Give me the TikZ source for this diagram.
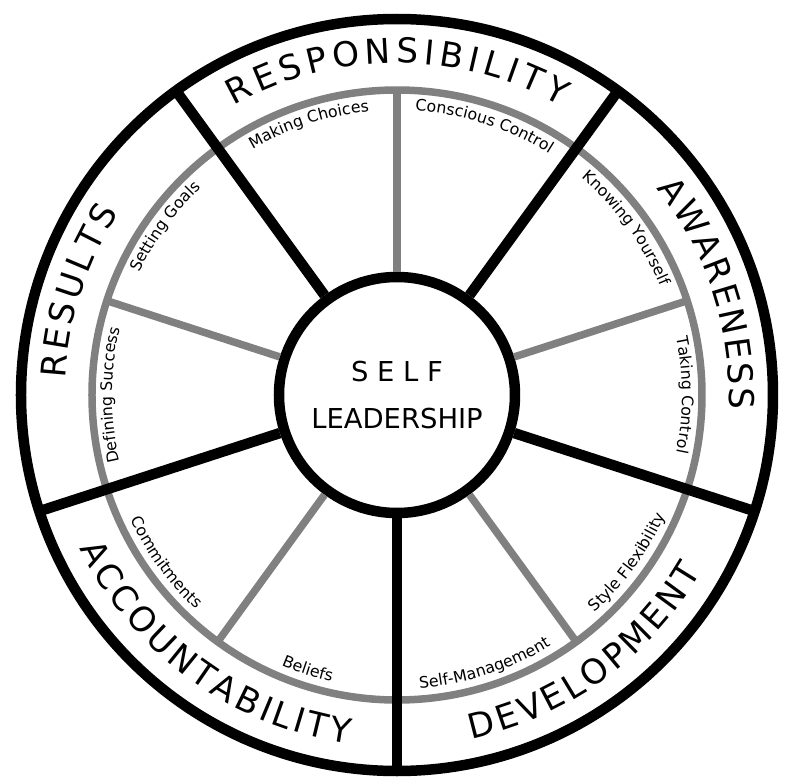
\documentclass[tikz,border=0pt]{standalone}
\usepackage{fontspec}
\setmainfont{DejaVu Sans}
\usetikzlibrary{decorations.text}
\tikzset{
    major/.style={draw=black, line width=0.21cm},
    minor/.style={draw=black!50, line width=0.15cm},
    hub/.style={
        circle,
        draw=black,
        line width=0.21cm,
        fill=white,
        minimum size=4.72cm,
        inner sep=0pt,
        align=center,
        font=\fontsize{15.6}{26.7}\selectfont
    }
}
\newcommand{\rimsize}{\fontsize{19.5}{23}\selectfont}
\newcommand{\spokesize}{\fontsize{9}{11}\selectfont}
% titolo sul bordo: raggio, angolo iniziale, angolo finale, testo
\newcommand{\rimlabel}[4]{%
    \path[decorate, decoration={text along path, text align=fit to path,
        text={|\rimsize|#4}}] (#2:#1) arc[start angle=#2, end angle=#3, radius=#1];}
% voce interna: raggio, angolo iniziale, angolo finale, testo
\newcommand{\spokelabel}[4]{%
    \path[decorate, decoration={text along path, text align=center,
        text={|\spokesize|#4}}] (#2:#1) arc[start angle=#2, end angle=#3, radius=#1];}

\begin{document}
\begin{tikzpicture}
    \useasboundingbox (-7.94,-7.68) rectangle (7.78,7.90);

    % Cerchi
    \draw[minor] (0,0) circle (6.1);
    \draw[major] (0,0) circle (7.52);
    \node[hub] (hub) at (0,0) {S E L F\\LEADERSHIP};

    % Raggi grigi
    \foreach \a in {90, 18, -54, -126, 162}
        \draw[minor] (hub.\a) -- (\a:6.1);

    % Raggi neri
    \foreach \a in {54, -18, -90, -162, 126}
        \draw[major] (hub.\a) -- (\a:7.52);

    % Titoli esterni
    \rimlabel{6.64}{119.5}{60.5}{RESPONSIBILITY}
    \rimlabel{6.64}{38.5}{-2.5}{AWARENESS}
    \rimlabel{7.04}{-77.8}{-30.2}{DEVELOPMENT}
    \rimlabel{7.04}{-154.2}{-97.8}{ACCOUNTABILITY}
    \rimlabel{6.64}{177.2}{146.8}{RESULTS}

    % Voci interne
    \spokelabel{5.7}{126}{90}{Making Choices}
    \spokelabel{5.7}{90}{54}{Conscious Control}
    \spokelabel{5.7}{54}{18}{Knowing Yourself}
    \spokelabel{5.7}{18}{-18}{Taking Control}
    \spokelabel{5.88}{-54}{-18}{Style Flexibility}
    \spokelabel{5.88}{-90}{-54}{Self-Management}
    \spokelabel{5.88}{-126}{-90}{Beliefs}
    \spokelabel{5.88}{-162}{-126}{Commitments}
    \spokelabel{5.7}{198}{162}{Defining Success}
    \spokelabel{5.7}{162}{126}{Setting Goals}
\end{tikzpicture}
\end{document}
